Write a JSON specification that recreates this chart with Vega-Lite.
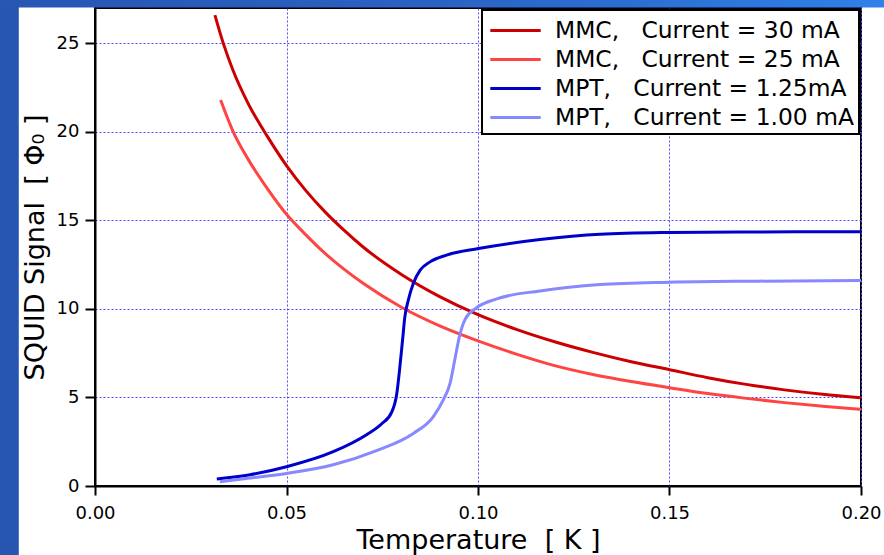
{
  "$schema": "https://vega.github.io/schema/vega-lite/v6.json",
  "width": 766,
  "height": 478,
  "autosize": {"type": "none"},
  "padding": {"left": 95, "top": 8, "right": 23, "bottom": 69},
  "background": "white",
  "config": {
    "view": {"stroke": "black", "strokeWidth": 2},
    "font": "DejaVu Sans",
    "legend": {"strokeWidth": 2},
    "axis": {
      "grid": true,
      "gridColor": "#4a4aff",
      "gridDash": [2, 2],
      "gridWidth": 1,
      "domainColor": "black",
      "domainWidth": 2,
      "tickColor": "black",
      "tickWidth": 2,
      "labelFontSize": 18,
      "labelColor": "black",
      "titleFontSize": 27,
      "titleFontWeight": "normal",
      "titleColor": "black"
    },
    "axisX": {
      "tickSize": 9,
      "labelPadding": 9,
      "labelFlush": false,
      "titlePadding": 5
    },
    "axisY": {
      "tickSize": 10,
      "labelPadding": 6,
      "titlePadding": 7
    }
  },
  "data": {
    "values": [
      {"series": "MMC,\u00a0\u00a0\u00a0Current = 30 mA", "T": 0.0313, "S": 26.6},
      {"series": "MMC,\u00a0\u00a0\u00a0Current = 30 mA", "T": 0.0335, "S": 25.0},
      {"series": "MMC,\u00a0\u00a0\u00a0Current = 30 mA", "T": 0.036, "S": 23.5},
      {"series": "MMC,\u00a0\u00a0\u00a0Current = 30 mA", "T": 0.04, "S": 21.6},
      {"series": "MMC,\u00a0\u00a0\u00a0Current = 30 mA", "T": 0.045, "S": 19.75},
      {"series": "MMC,\u00a0\u00a0\u00a0Current = 30 mA", "T": 0.05, "S": 18.1},
      {"series": "MMC,\u00a0\u00a0\u00a0Current = 30 mA", "T": 0.055, "S": 16.7},
      {"series": "MMC,\u00a0\u00a0\u00a0Current = 30 mA", "T": 0.06, "S": 15.5},
      {"series": "MMC,\u00a0\u00a0\u00a0Current = 30 mA", "T": 0.065, "S": 14.45},
      {"series": "MMC,\u00a0\u00a0\u00a0Current = 30 mA", "T": 0.07, "S": 13.5},
      {"series": "MMC,\u00a0\u00a0\u00a0Current = 30 mA", "T": 0.08, "S": 11.95},
      {"series": "MMC,\u00a0\u00a0\u00a0Current = 30 mA", "T": 0.09, "S": 10.7},
      {"series": "MMC,\u00a0\u00a0\u00a0Current = 30 mA", "T": 0.1, "S": 9.68},
      {"series": "MMC,\u00a0\u00a0\u00a0Current = 30 mA", "T": 0.11, "S": 8.85},
      {"series": "MMC,\u00a0\u00a0\u00a0Current = 30 mA", "T": 0.12, "S": 8.15},
      {"series": "MMC,\u00a0\u00a0\u00a0Current = 30 mA", "T": 0.13, "S": 7.55},
      {"series": "MMC,\u00a0\u00a0\u00a0Current = 30 mA", "T": 0.14, "S": 7.02},
      {"series": "MMC,\u00a0\u00a0\u00a0Current = 30 mA", "T": 0.15, "S": 6.57},
      {"series": "MMC,\u00a0\u00a0\u00a0Current = 30 mA", "T": 0.16, "S": 6.12},
      {"series": "MMC,\u00a0\u00a0\u00a0Current = 30 mA", "T": 0.17, "S": 5.74},
      {"series": "MMC,\u00a0\u00a0\u00a0Current = 30 mA", "T": 0.18, "S": 5.43},
      {"series": "MMC,\u00a0\u00a0\u00a0Current = 30 mA", "T": 0.19, "S": 5.18},
      {"series": "MMC,\u00a0\u00a0\u00a0Current = 30 mA", "T": 0.2, "S": 4.98},

      {"series": "MMC,\u00a0\u00a0\u00a0Current = 25 mA", "T": 0.0328, "S": 21.8},
      {"series": "MMC,\u00a0\u00a0\u00a0Current = 25 mA", "T": 0.036, "S": 20.05},
      {"series": "MMC,\u00a0\u00a0\u00a0Current = 25 mA", "T": 0.04, "S": 18.45},
      {"series": "MMC,\u00a0\u00a0\u00a0Current = 25 mA", "T": 0.045, "S": 16.8},
      {"series": "MMC,\u00a0\u00a0\u00a0Current = 25 mA", "T": 0.05, "S": 15.35},
      {"series": "MMC,\u00a0\u00a0\u00a0Current = 25 mA", "T": 0.055, "S": 14.2},
      {"series": "MMC,\u00a0\u00a0\u00a0Current = 25 mA", "T": 0.06, "S": 13.15},
      {"series": "MMC,\u00a0\u00a0\u00a0Current = 25 mA", "T": 0.065, "S": 12.25},
      {"series": "MMC,\u00a0\u00a0\u00a0Current = 25 mA", "T": 0.07, "S": 11.45},
      {"series": "MMC,\u00a0\u00a0\u00a0Current = 25 mA", "T": 0.08, "S": 10.1},
      {"series": "MMC,\u00a0\u00a0\u00a0Current = 25 mA", "T": 0.09, "S": 9.05},
      {"series": "MMC,\u00a0\u00a0\u00a0Current = 25 mA", "T": 0.1, "S": 8.2},
      {"series": "MMC,\u00a0\u00a0\u00a0Current = 25 mA", "T": 0.11, "S": 7.45},
      {"series": "MMC,\u00a0\u00a0\u00a0Current = 25 mA", "T": 0.12, "S": 6.8},
      {"series": "MMC,\u00a0\u00a0\u00a0Current = 25 mA", "T": 0.13, "S": 6.3},
      {"series": "MMC,\u00a0\u00a0\u00a0Current = 25 mA", "T": 0.14, "S": 5.9},
      {"series": "MMC,\u00a0\u00a0\u00a0Current = 25 mA", "T": 0.15, "S": 5.55},
      {"series": "MMC,\u00a0\u00a0\u00a0Current = 25 mA", "T": 0.16, "S": 5.22},
      {"series": "MMC,\u00a0\u00a0\u00a0Current = 25 mA", "T": 0.17, "S": 4.95},
      {"series": "MMC,\u00a0\u00a0\u00a0Current = 25 mA", "T": 0.18, "S": 4.71},
      {"series": "MMC,\u00a0\u00a0\u00a0Current = 25 mA", "T": 0.19, "S": 4.51},
      {"series": "MMC,\u00a0\u00a0\u00a0Current = 25 mA", "T": 0.2, "S": 4.33},

      {"series": "MPT,\u00a0\u00a0\u00a0Current = 1.25mA", "T": 0.0318, "S": 0.4},
      {"series": "MPT,\u00a0\u00a0\u00a0Current = 1.25mA", "T": 0.0405, "S": 0.64},
      {"series": "MPT,\u00a0\u00a0\u00a0Current = 1.25mA", "T": 0.05, "S": 1.09},
      {"series": "MPT,\u00a0\u00a0\u00a0Current = 1.25mA", "T": 0.0622, "S": 1.94},
      {"series": "MPT,\u00a0\u00a0\u00a0Current = 1.25mA", "T": 0.0709, "S": 2.9},
      {"series": "MPT,\u00a0\u00a0\u00a0Current = 1.25mA", "T": 0.0748, "S": 3.5},
      {"series": "MPT,\u00a0\u00a0\u00a0Current = 1.25mA", "T": 0.0775, "S": 4.19},
      {"series": "MPT,\u00a0\u00a0\u00a0Current = 1.25mA", "T": 0.0788, "S": 5.23},
      {"series": "MPT,\u00a0\u00a0\u00a0Current = 1.25mA", "T": 0.0796, "S": 6.73},
      {"series": "MPT,\u00a0\u00a0\u00a0Current = 1.25mA", "T": 0.0803, "S": 8.24},
      {"series": "MPT,\u00a0\u00a0\u00a0Current = 1.25mA", "T": 0.0809, "S": 9.55},
      {"series": "MPT,\u00a0\u00a0\u00a0Current = 1.25mA", "T": 0.0818, "S": 10.5},
      {"series": "MPT,\u00a0\u00a0\u00a0Current = 1.25mA", "T": 0.0831, "S": 11.44},
      {"series": "MPT,\u00a0\u00a0\u00a0Current = 1.25mA", "T": 0.0849, "S": 12.19},
      {"series": "MPT,\u00a0\u00a0\u00a0Current = 1.25mA", "T": 0.0875, "S": 12.66},
      {"series": "MPT,\u00a0\u00a0\u00a0Current = 1.25mA", "T": 0.0918, "S": 13.04},
      {"series": "MPT,\u00a0\u00a0\u00a0Current = 1.25mA", "T": 0.1001, "S": 13.41},
      {"series": "MPT,\u00a0\u00a0\u00a0Current = 1.25mA", "T": 0.1162, "S": 13.92},
      {"series": "MPT,\u00a0\u00a0\u00a0Current = 1.25mA", "T": 0.1319, "S": 14.22},
      {"series": "MPT,\u00a0\u00a0\u00a0Current = 1.25mA", "T": 0.15, "S": 14.32},
      {"series": "MPT,\u00a0\u00a0\u00a0Current = 1.25mA", "T": 0.168, "S": 14.35},
      {"series": "MPT,\u00a0\u00a0\u00a0Current = 1.25mA", "T": 0.2, "S": 14.36},

      {"series": "MPT,\u00a0\u00a0\u00a0Current = 1.00 mA", "T": 0.0326, "S": 0.24},
      {"series": "MPT,\u00a0\u00a0\u00a0Current = 1.00 mA", "T": 0.0405, "S": 0.45},
      {"series": "MPT,\u00a0\u00a0\u00a0Current = 1.00 mA", "T": 0.05, "S": 0.71},
      {"series": "MPT,\u00a0\u00a0\u00a0Current = 1.00 mA", "T": 0.0622, "S": 1.2},
      {"series": "MPT,\u00a0\u00a0\u00a0Current = 1.00 mA", "T": 0.0735, "S": 2.0},
      {"series": "MPT,\u00a0\u00a0\u00a0Current = 1.00 mA", "T": 0.0831, "S": 2.97},
      {"series": "MPT,\u00a0\u00a0\u00a0Current = 1.00 mA", "T": 0.0883, "S": 3.91},
      {"series": "MPT,\u00a0\u00a0\u00a0Current = 1.00 mA", "T": 0.0909, "S": 4.85},
      {"series": "MPT,\u00a0\u00a0\u00a0Current = 1.00 mA", "T": 0.0927, "S": 5.8},
      {"series": "MPT,\u00a0\u00a0\u00a0Current = 1.00 mA", "T": 0.094, "S": 7.2},
      {"series": "MPT,\u00a0\u00a0\u00a0Current = 1.00 mA", "T": 0.0951, "S": 8.4},
      {"series": "MPT,\u00a0\u00a0\u00a0Current = 1.00 mA", "T": 0.0966, "S": 9.4},
      {"series": "MPT,\u00a0\u00a0\u00a0Current = 1.00 mA", "T": 0.0995, "S": 10.05},
      {"series": "MPT,\u00a0\u00a0\u00a0Current = 1.00 mA", "T": 0.1049, "S": 10.57},
      {"series": "MPT,\u00a0\u00a0\u00a0Current = 1.00 mA", "T": 0.1162, "S": 11.02},
      {"series": "MPT,\u00a0\u00a0\u00a0Current = 1.00 mA", "T": 0.1319, "S": 11.38},
      {"series": "MPT,\u00a0\u00a0\u00a0Current = 1.00 mA", "T": 0.15, "S": 11.51},
      {"series": "MPT,\u00a0\u00a0\u00a0Current = 1.00 mA", "T": 0.1728, "S": 11.57},
      {"series": "MPT,\u00a0\u00a0\u00a0Current = 1.00 mA", "T": 0.2, "S": 11.61}
    ]
  },
  "layer": [
    {
      "mark": {"type": "line", "interpolate": "monotone", "strokeWidth": 3, "clip": true},
      "encoding": {
        "x": {
          "field": "T",
          "type": "quantitative",
          "title": "Temperature\u00a0\u00a0[ K ]",
          "scale": {"domain": [0, 0.2], "nice": false},
          "axis": {"values": [0, 0.05, 0.1, 0.15, 0.2], "format": ".2f"}
        },
        "y": {
          "field": "S",
          "type": "quantitative",
          "title": "SQUID Signal\u00a0\u00a0[ Φ₀ ]",
          "scale": {"domain": [0, 27], "nice": false},
          "axis": {"values": [0, 5, 10, 15, 20, 25], "format": "d"}
        },
        "color": {
          "field": "series",
          "type": "nominal",
          "scale": {
            "domain": [
              "MMC,\u00a0\u00a0\u00a0Current = 30 mA",
              "MMC,\u00a0\u00a0\u00a0Current = 25 mA",
              "MPT,\u00a0\u00a0\u00a0Current = 1.25mA",
              "MPT,\u00a0\u00a0\u00a0Current = 1.00 mA"
            ],
            "range": ["#cc0000", "#ff4444", "#0000cc", "#8888ff"]
          },
          "legend": {
            "orient": "top-right",
            "offset": 2,
            "title": null,
            "symbolType": "M-1.8,0H1.8",
            "symbolSize": 784,
            "symbolStrokeWidth": 3,
            "symbolOffset": 13,
            "labelFontSize": 23.4,
            "labelColor": "black",
            "labelOffset": 24,
            "labelLimit": 500,
            "rowPadding": 2,
            "padding": 5,
            "strokeColor": "black",
            "fillColor": "white",
            "cornerRadius": 0
          }
        }
      }
    },
    {
      "data": {"values": [{}]},
      "mark": {"type": "rect", "color": "#2755b2", "clip": false},
      "encoding": {
        "x": {"datum": -0.03, "type": "quantitative"},
        "x2": {"datum": -0.0199},
        "y": {"datum": -5, "type": "quantitative"},
        "y2": {"datum": 30}
      }
    },
    {
      "data": {"values": [{}]},
      "mark": {
        "type": "rect",
        "clip": false,
        "color": {
          "gradient": "linear",
          "x1": 0, "y1": 0, "x2": 1, "y2": 0,
          "stops": [
            {"offset": 0, "color": "#2755b2"},
            {"offset": 0.5, "color": "#2a62c4"},
            {"offset": 1, "color": "#2f82ea"}
          ]
        }
      },
      "encoding": {
        "x": {"datum": -0.03, "type": "quantitative"},
        "x2": {"datum": 0.21},
        "y": {"datum": 27.03, "type": "quantitative"},
        "y2": {"datum": 30}
      }
    }
  ]
}
